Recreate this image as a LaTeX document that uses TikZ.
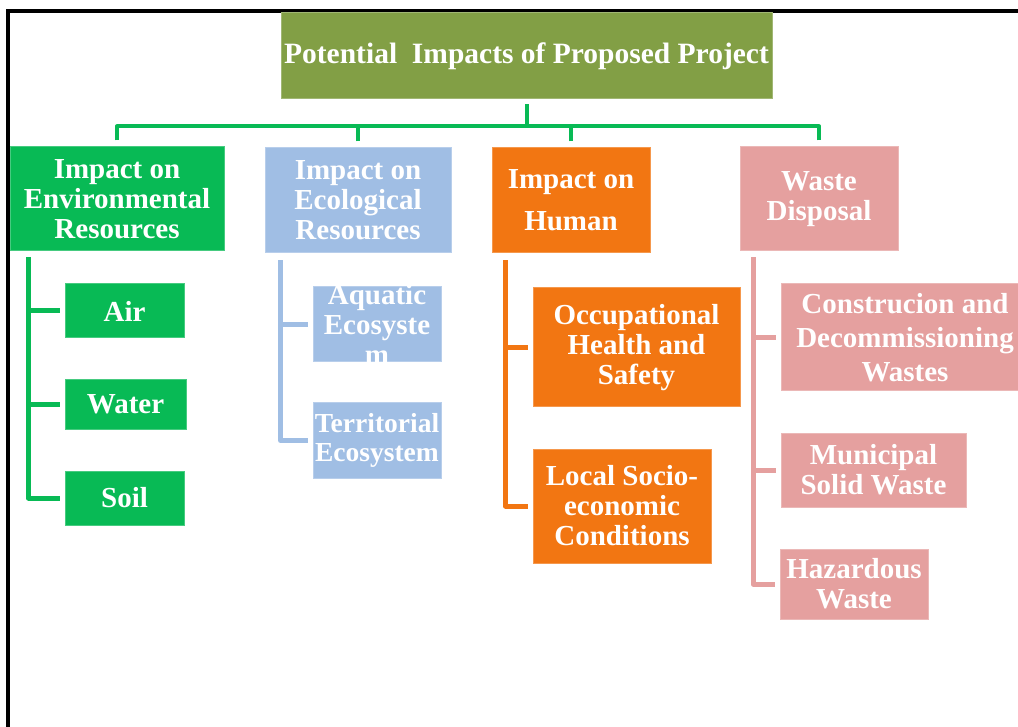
\documentclass[tikz,border=0pt]{standalone}
\usepackage{fontspec}
\setmainfont{Liberation Serif}
\usetikzlibrary{calc}
\definecolor{rootolive}{RGB}{130,159,69}
\definecolor{envgreen}{RGB}{8,186,85}
\definecolor{ecoblue}{RGB}{160,190,228}
\definecolor{humorange}{RGB}{242,118,18}
\definecolor{wastepink}{RGB}{229,160,159}
\tikzset{
  box/.style={rectangle, fill=#1, draw=#1!75!white, line width=1pt, text=white, inner sep=0pt, align=center, font=\bfseries\fontsize{29}{30}\selectfont},
  boxtext/.style={text=white, align=center, inner sep=0pt, font=\bfseries\fontsize{29}{30}\selectfont},
  branch/.style={draw=#1, line width=5pt, line join=round},
  trunk/.style={draw=envgreen, line width=4pt, line join=round}
}

\begin{document}
\begin{tikzpicture}[x=1pt, y=-1pt]
\useasboundingbox (0,0) rectangle (1018,727);
\draw[line width=4pt] (8,760) -- (8,11.3) -- (1040,11.3);

\node[box=rootolive, minimum width=491, minimum height=86, font=\bfseries\fontsize{29.5}{30}\selectfont] (root) at (526.5,56) {Potential\ \ Impacts of Proposed Project};

\node[box=envgreen, minimum width=214, minimum height=104] (env) at (117,199) {Impact on\\Environmental\\Resources};
\node[box=ecoblue, minimum width=186, minimum height=105] (eco) at (358,200.5) {Impact on\\Ecological\\Resources};
\node[box=humorange, minimum width=158, minimum height=105, font=\bfseries\fontsize{29}{42}\selectfont] (hum) at (571,200.5) {Impact on\\Human};
\node[box=wastepink, minimum width=158, minimum height=104] (waste) at (819,199) {Waste\\Disposal};

\node[box=envgreen, minimum width=119, minimum height=54] (air) at (124.5,311) {Air};
\node[box=envgreen, minimum width=121, minimum height=49] (water) at (125.5,404.5) {Water};
\node[box=envgreen, minimum width=119, minimum height=54] (soil) at (124.5,498) {Soil};

\node[box=ecoblue, minimum width=128, minimum height=75, label={[boxtext]center:Aquatic\\Ecosyste\\m}] (aqua) at (377,324.5) {};
\node[box=ecoblue, minimum width=128, minimum height=75, label={[boxtext, font=\bfseries\fontsize{27.5}{29}\selectfont]center:Territorial\\Ecosystem}] (terr) at (377,440.5) {};

\node[box=humorange, minimum width=207, minimum height=119] (ohs) at (636.5,347.5) {Occupational\\Health and\\Safety};
\node[box=humorange, minimum width=178, minimum height=114] (local) at (622,506) {Local Socio-\\economic\\Conditions};

\node[box=wastepink, minimum width=248, minimum height=107, font=\bfseries\fontsize{29}{34}\selectfont] (cdw) at (905,337.5) {Construcion and\\Decommissioning\\Wastes};
\node[box=wastepink, minimum width=185, minimum height=74] (msw) at (873.5,470) {Municipal\\Solid Waste};
\node[box=wastepink, minimum width=148, minimum height=70] (haz) at (854,584) {Hazardous\\Waste};

\coordinate (bar) at ($(root.south)+(0,27)$);
\draw[trunk] ($(root.south)+(0,5)$) -- (bar);
\foreach \n in {env,eco,hum,waste}
  \draw[trunk] ($(\n.north)+(0,-6)$) |- (bar);

\foreach \c in {air,water,soil}
  \draw[branch=envgreen] ($(env.south west)+(19,6)$) |- ($(\c.west)+(-5,0)$);
\foreach \c in {aqua,terr}
  \draw[branch=ecoblue] ($(eco.south west)+(16,7)$) |- ($(\c.west)+(-5,0)$);
\foreach \c in {ohs,local}
  \draw[branch=humorange] ($(hum.south west)+(14,7)$) |- ($(\c.west)+(-5,0)$);
\foreach \c in {cdw,msw,haz}
  \draw[branch=wastepink] ($(waste.south west)+(13.5,6)$) |- ($(\c.west)+(-5,0)$);
\end{tikzpicture}
\end{document}
